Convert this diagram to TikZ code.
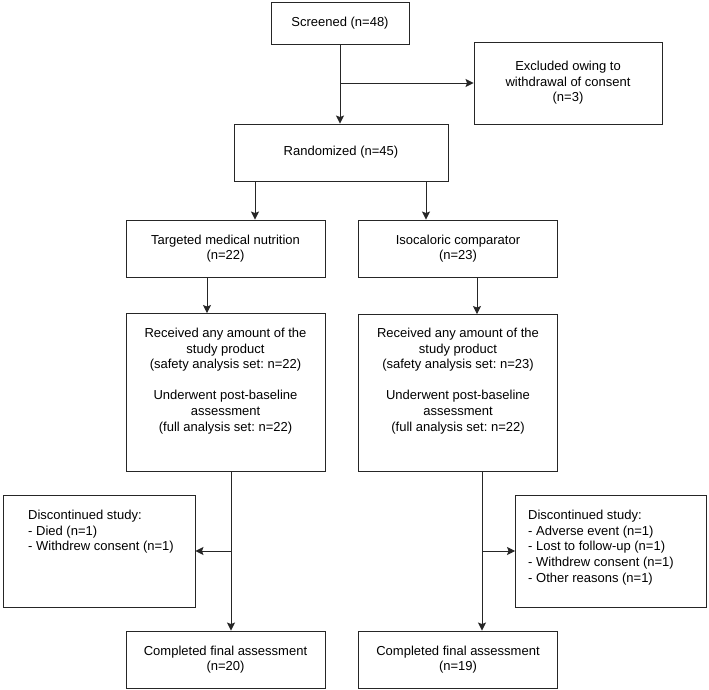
\documentclass[tikz,border=0pt]{standalone}
\usepackage{fontspec}
\setmainfont{Liberation Sans}
\usetikzlibrary{arrows.meta}
\frenchspacing
\begin{document}
\begin{tikzpicture}[x=1pt,y=-1pt,
  every node/.style={font=\fontsize{13pt}{15.6pt}\selectfont},
  box/.style={draw=black!85, line width=0.95pt, inner sep=0pt, align=center},
  txt/.style={inner sep=0pt, align=center},
  ltxt/.style={inner sep=0pt, align=left, anchor=north west},
  arr/.style={draw=black!85, line width=0.95pt, -{Stealth[length=8pt,width=8pt,inset=1.5pt]}}]
\useasboundingbox (0,0) rectangle (709,690);
% boxes
\node[box, minimum width=138pt, minimum height=42pt] (scr) at (340,23) {Screened (n=48)};
\node[box, minimum width=188pt, minimum height=82pt] (exc) at (568,83) {Excluded owing to\\withdrawal of consent\\(n=3)};
\node[box, minimum width=214pt, minimum height=57pt] (rnd) at (341,152.5) {Randomized (n=45)};
\node[box, minimum width=199pt, minimum height=57pt] (tmn) at (225.5,248.5) {Targeted medical nutrition\\(n=22)};
\node[box, minimum width=199pt, minimum height=57pt] (iso) at (458,248.5) {Isocaloric comparator\\(n=23)};
\node[box, minimum width=199pt, minimum height=158pt] (rcvL) at (225.5,392.5) {};
\node[box, minimum width=199pt, minimum height=157pt] (rcvR) at (458,393) {};
\node[txt] (rcvLt) at (225.5,381) {Received any amount of the\\study product\\(safety analysis set: n=22)\\[15.6pt]Underwent post-baseline\\assessment\\(full analysis set: n=22)};
\node[txt] (rcvRt) at (458,381) {Received any amount of the\\study product\\(safety analysis set: n=23)\\[15.6pt]Underwent post-baseline\\assessment\\(full analysis set: n=22)};
\node[box, minimum width=192pt, minimum height=112pt] (dscL) at (99,551) {};
\node[box, minimum width=191pt, minimum height=112pt] (dscR) at (611,551) {};
\node[ltxt] (dscLt) at (28,510) {Discontinued study:\\- Died (n=1)\\- Withdrew consent (n=1)};
\node[ltxt] (dscRt) at (528,510) {Discontinued study:\\- Adverse event (n=1)\\- Lost to follow-up (n=1)\\- Withdrew consent (n=1)\\- Other reasons (n=1)};
\node[box, minimum width=199pt, minimum height=57pt] (cmpL) at (225.5,659.5) {Completed final assessment\\(n=20)};
\node[box, minimum width=199pt, minimum height=57pt] (cmpR) at (458,659.5) {Completed final assessment\\(n=19)};
% coordinates
\coordinate (b1) at (scr.south |- exc.west);
\coordinate (tin) at (255,0);
\coordinate (iin) at (426,0);
\coordinate (tout) at (207,0);
\coordinate (iout) at (477,0);
\coordinate (ldown) at (231,0);
\coordinate (rdown) at (482,0);
% connectors
\draw[arr] (scr.south) -- (scr.south |- rnd.north);
\draw[arr] (b1) -- (exc.west);
\draw[arr] (rnd.south -| tin) -- (tmn.north -| tin);
\draw[arr] (rnd.south -| iin) -- (iso.north -| iin);
\draw[arr] (tmn.south -| tout) -- (rcvL.north -| tout);
\draw[arr] (iso.south -| iout) -- (rcvR.north -| iout);
\draw[arr] (rcvL.south -| ldown) -- (cmpL.north -| ldown);
\draw[arr] (rcvR.south -| rdown) -- (cmpR.north -| rdown);
\draw[arr] (dscL.east -| ldown) -- (dscL.east);
\draw[arr] (dscR.west -| rdown) -- (dscR.west);
\end{tikzpicture}
\end{document}
